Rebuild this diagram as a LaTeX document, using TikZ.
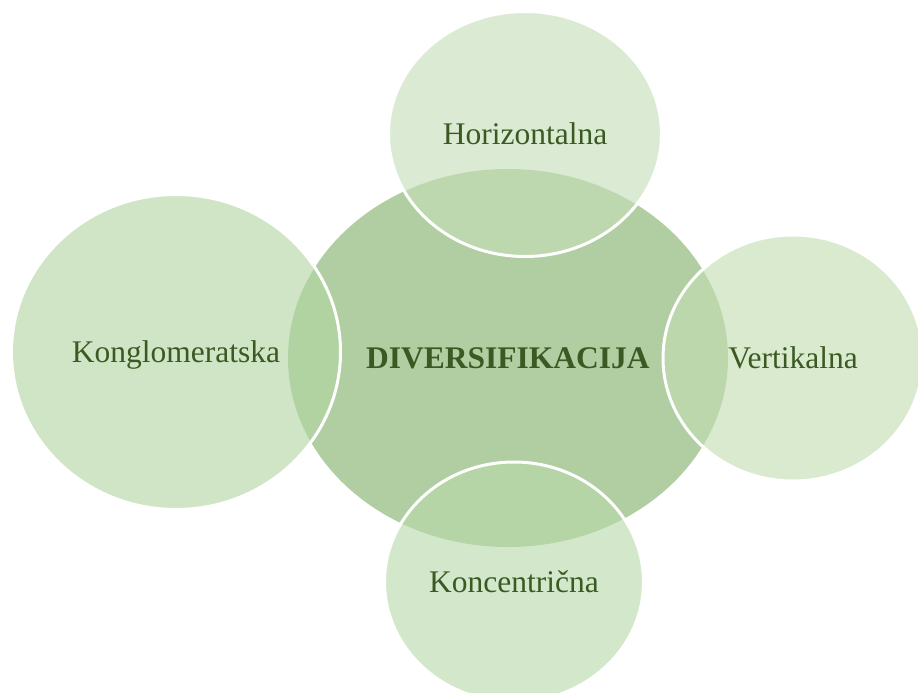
\documentclass[tikz,border=0pt]{standalone}
\usepackage{fontspec}
\setmainfont{Liberation Serif}
\usetikzlibrary{shapes.geometric}
\definecolor{textgreen}{HTML}{3B5A23}
\definecolor{coregreen}{RGB}{177,206,162}
\definecolor{topgreen}{RGB}{197,223,184}
\definecolor{rightgreen}{RGB}{194,221,177}
\definecolor{bottomgreen}{RGB}{184,218,169}
\definecolor{leftgreen}{RGB}{177,213,161}
\tikzset{
  core/.style={ellipse, fill=coregreen, inner sep=0pt, text=textgreen,
    font=\fontsize{31.5}{36}\selectfont\bfseries, text height=21pt, text depth=0pt},
  branch/.style={ellipse, draw=white, line width=3pt, fill opacity=0.62,
    text opacity=1, inner sep=0pt, text=textgreen,
    font=\fontsize{31.5}{36}\selectfont, text height=21pt, text depth=0pt}
}
\begin{document}
\begin{tikzpicture}[x=1pt,y=-1pt]
\useasboundingbox (0,0) rectangle (918,693);
\clip (0,0) rectangle (918,693);
\node[core, minimum width=440, minimum height=378] (div) at (508,358) {DIVERSIFIKACIJA};
\node[branch, fill=topgreen, minimum width=273, minimum height=245] (hor) at (525,134) {Horizontalna};
\node[branch, fill=rightgreen, minimum width=260, minimum height=246] (ver) at (793,358) {Vertikalna};
\node[branch, fill=bottomgreen, minimum width=259, minimum height=240] (kon) at (514,582) {Koncentrična};
\node[branch, fill=leftgreen, minimum width=329, minimum height=315] (kgl) at (176,352) {Konglomeratska};
\end{tikzpicture}
\end{document}
